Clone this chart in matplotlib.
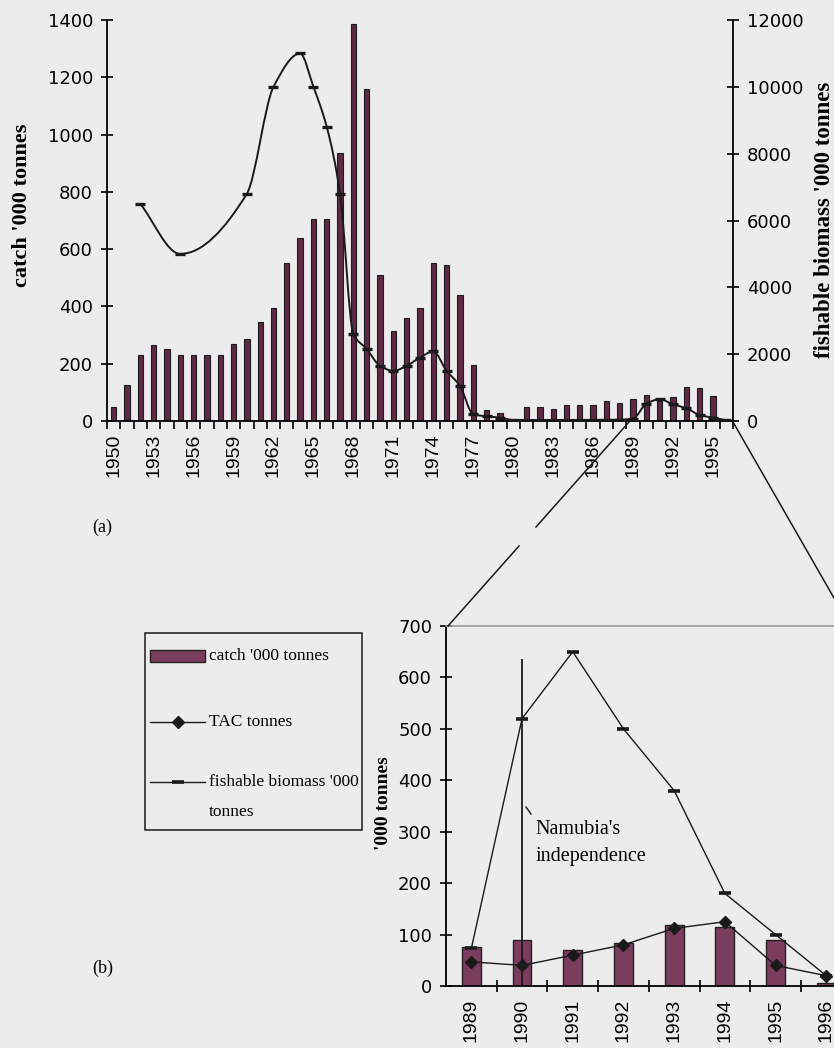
import numpy as np
import matplotlib
matplotlib.use("Agg")
import matplotlib.pyplot as plt
from matplotlib.path import Path
from matplotlib.patches import PathPatch, Rectangle
from matplotlib.lines import Line2D

# ---------------- data ----------------
years = list(range(1950, 1997))
catch = [50, 125, 230, 265, 250, 230, 230, 230, 230, 270,
         285, 345, 395, 550, 640, 705, 705, 935, 1385, 1160,
         510, 315, 360, 395, 550, 545, 440, 195, 40, 28,
         5, 50, 50, 42, 57, 57, 57, 70, 64, 76,
         90, 70, 83, 118, 115, 89, 5]

biomass_years = [1952, 1955, 1960, 1962, 1964, 1965, 1966, 1967,
                 1968, 1969, 1970, 1971, 1972, 1973, 1974, 1975, 1976, 1977,
                 1978, 1979, 1980, 1988, 1989, 1990, 1991, 1992, 1993, 1994,
                 1995, 1996]
biomass = [6500, 5000, 6800, 10000, 11000, 10000, 8800, 6800,
           2600, 2150, 1650, 1500, 1650, 1900, 2080, 1500, 1050, 200,
           140, 100, 30, 40, 73, 520, 650, 500, 380, 180,
           100, 20]

recent_years = ["1989", "1990", "1991", "1992", "1993", "1994", "1995", "1996"]
recent_catch = [76, 90, 70, 83, 118, 115, 89, 5]
recent_tac = [47, 40, 60, 80, 112, 125, 40, 20]
recent_biomass = [73, 520, 650, 500, 380, 180, 100, 20]
independence_year = "1990"
independence_marker_top = 636

# ---------------- style ----------------
BG = "#ececec"
BAR = "#7b3d5d"
BAR_DARK = "#5e2a44"
INK = "#1a1a1a"
TICK_FONT = "DejaVu Sans"
SERIF = "Liberation Serif"

plt.rcParams["font.family"] = TICK_FONT
W, H = 834, 1048
fig = plt.figure(figsize=(W / 100, H / 100), dpi=100, facecolor=BG)


def fx(px):
    return px / W


def fy(py):
    return 1 - py / H


def smooth_path(x, y):
    """Shape-preserving cubic (Fritsch-Carlson slopes) as Bezier segments."""
    x = np.asarray(x, float)
    y = np.asarray(y, float)
    h = np.diff(x)
    d = np.diff(y) / h
    m = np.zeros_like(y)
    for k in range(1, len(y) - 1):
        if d[k - 1] * d[k] > 0:
            w1 = 2 * h[k] + h[k - 1]
            w2 = h[k] + 2 * h[k - 1]
            m[k] = (w1 + w2) / (w1 / d[k - 1] + w2 / d[k])
    m[0] = d[0]
    m[-1] = d[-1]
    verts = [(x[0], y[0])]
    codes = [Path.MOVETO]
    for i in range(len(x) - 1):
        t = h[i] / 3
        verts += [(x[i] + t, y[i] + m[i] * t),
                  (x[i + 1] - t, y[i + 1] - m[i + 1] * t),
                  (x[i + 1], y[i + 1])]
        codes += [Path.CURVE4] * 3
    return Path(verts, codes)


# ---------------- panel (a) ----------------
ax1 = fig.add_axes([fx(107), fy(421), fx(733 - 107), (421 - 20) / H])
ax1.patch.set_alpha(0)
n = len(years)
idx = np.arange(n)
ax1.bar(idx, catch, width=0.4, color=BAR_DARK, edgecolor="#1c1c1c",
        linewidth=0.8, zorder=2)
ax1.set_xlim(-0.5, n - 0.5)
ax1.set_ylim(0, 1400)
for s in ("top", "right"):
    ax1.spines[s].set_visible(False)
for s in ("left", "bottom"):
    ax1.spines[s].set_linewidth(1.3)
ax1.set_yticks(range(0, 1401, 200))
ax1.tick_params(axis="y", direction="inout", length=8, width=1.2,
                labelsize=13, pad=6)
ax1.set_xticks(idx[::3])
ax1.set_xticklabels([str(y) for y in years[::3]], rotation=90,
                    family="Liberation Sans", fontsize=14)
ax1.set_xticks(np.arange(-0.5, n, 1.0), minor=True)
ax1.tick_params(axis="x", which="major", length=0, pad=9)
ax1.tick_params(axis="x", which="minor", direction="out", length=6, width=1.2)

ax2 = ax1.twinx()
ax2.set_ylim(0, 12000)
ax2.set_yticks(range(0, 12001, 2000))
for s in ("top", "left", "bottom"):
    ax2.spines[s].set_visible(False)
ax2.spines["right"].set_linewidth(1.3)
ax2.tick_params(axis="y", direction="inout", length=8, width=1.2,
                labelsize=13, pad=6)

bx = np.array([y - years[0] for y in biomass_years], dtype=float)
ax2.add_patch(PathPatch(smooth_path(bx, biomass), fill=False, edgecolor=INK,
                        linewidth=1.4, zorder=3))
ax2.plot(bx, biomass, linestyle="none", marker="_", markersize=7,
         markeredgewidth=2.4, color=INK, zorder=4)

fig.text(fx(22), fy(205), "catch '000 tonnes", rotation=90, ha="center",
         va="center", family=SERIF, fontweight="bold", fontsize=16)
fig.text(fx(824), fy(220), "fishable biomass '000 tonnes", rotation=90,
         ha="center", va="center", family=SERIF, fontweight="bold",
         fontsize=16.5)
fig.text(fx(92), fy(527), "(a)", family=SERIF, fontsize=13, va="center")

# ---------------- panel (b) ----------------
step = 50.7
ax3 = fig.add_axes([fx(446), fy(986), fx(8 * step), (986 - 626) / H])
ax3.patch.set_alpha(0)
ridx = np.arange(len(recent_years))
ax3.bar(ridx, recent_catch, width=0.37, color=BAR, edgecolor="#222222",
        linewidth=1.0, zorder=2)
ax3.plot(ridx, recent_biomass, color=INK, linewidth=1.0,
         marker="_", markersize=9, markeredgewidth=2.6, zorder=3)
ax3.plot(ridx, recent_tac, color=INK, linewidth=1.0,
         marker="D", markersize=6.5, zorder=4)
ind = recent_years.index(independence_year)
ax3.vlines(ind, 0, independence_marker_top, color=INK, linewidth=1.3,
           zorder=5)
ax3.text(ind + 0.26, 322, "Namubia's\nindependence", family=SERIF,
         fontsize=14.5, va="top", ha="left", linespacing=1.55)

ax3.set_xlim(-0.5, len(recent_years) - 0.5)
ax3.set_ylim(0, 700)
ax3.spines["right"].set_visible(False)
ax3.spines["top"].set_color("#9a9a9a")
ax3.spines["top"].set_linewidth(1.2)
for s in ("left", "bottom"):
    ax3.spines[s].set_linewidth(1.3)
ax3.set_yticks(range(0, 701, 100))
ax3.tick_params(axis="y", direction="inout", length=8, width=1.2,
                labelsize=13, pad=6)
ax3.set_xticks(ridx)
ax3.set_xticklabels(recent_years, rotation=90, family="Liberation Sans",
                    fontsize=14)
ax3.set_xticks(np.arange(0.5, len(recent_years) - 0.5, 1.0), minor=True)
ax3.tick_params(axis="x", which="major", length=0, pad=9)
ax3.tick_params(axis="x", which="minor", direction="inout", length=8,
                width=1.2)
fig.text(fx(383), fy(803), "'000 tonnes", rotation=90, ha="center",
         va="center", family=SERIF, fontweight="bold", fontsize=14)
fig.text(fx(92), fy(968), "(b)", family=SERIF, fontsize=13, va="center")

# leader tick next to the annotation
fig.add_artist(Line2D([fx(526), fx(531)], [fy(807), fy(814)],
                      color=INK, linewidth=1.0))

# zoom connector lines from panel (a) to panel (b)
fig.add_artist(Line2D([fx(448), fx(519)], [fy(626), fy(546)],
                      color=INK, linewidth=1.1))
fig.add_artist(Line2D([fx(536), fx(629)], [fy(527), fy(422)],
                      color=INK, linewidth=1.1))
fig.add_artist(Line2D([fx(733), fx(834)], [fy(422), fy(598)],
                      color=INK, linewidth=1.1))

# legend box
leg_font = dict(family=SERIF, fontsize=12.5, va="center", ha="left")
fig.add_artist(Rectangle((fx(145), fy(830)), fx(362 - 145), (830 - 633) / H,
                         transform=fig.transFigure, facecolor=BG,
                         edgecolor=INK, linewidth=1.1))
fig.add_artist(Rectangle((fx(150), fy(662)), fx(55), 12 / H,
                         transform=fig.transFigure, facecolor=BAR,
                         edgecolor="#222222", linewidth=1.0))
fig.add_artist(Line2D([fx(150), fx(205)], [fy(722), fy(722)], color=INK,
                      linewidth=1.0))
fig.add_artist(Line2D([fx(177.5)], [fy(722)], color=INK, marker="D",
                      markersize=6.5, linestyle="none"))
fig.add_artist(Line2D([fx(150), fx(205)], [fy(782), fy(782)], color=INK,
                      linewidth=1.0))
fig.add_artist(Line2D([fx(177.5)], [fy(782)], color=INK, marker="_",
                      markersize=9, markeredgewidth=2.6, linestyle="none"))
fig.text(fx(209), fy(656), "catch '000 tonnes", **leg_font)
fig.text(fx(209), fy(722), "TAC tonnes", **leg_font)
fig.text(fx(209), fy(782), "fishable biomass '000", **leg_font)
fig.text(fx(209), fy(812), "tonnes", **leg_font)

fig.savefig("out.png", dpi=100, facecolor=BG)
